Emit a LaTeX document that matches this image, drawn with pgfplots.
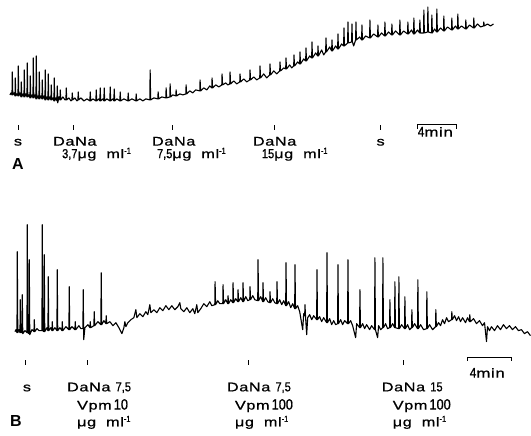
\documentclass[border=0pt]{standalone}
\usepackage{fontspec}
\setmainfont{Liberation Sans}
\newfontfamily\wf[FakeStretch=1.3,LetterSpace=5,FakeBold=0.8]{Liberation Sans}
\newfontfamily\nf[FakeStretch=0.85,FakeBold=0.8]{Liberation Sans}
\usepackage{pgfplots}
\pgfplotsset{compat=1.18}
\tikzset{lbl/.style={inner sep=0pt, font=\wf\fontsize{12.5}{14}\selectfont}}
\newcommand{\num}[2]{{\nf\fontsize{#1}{#1}\selectfont #2}}
\newcommand{\ugml}{μg\hspace{10pt}ml\textsuperscript{\nf -1}}

% recording traces, picture coordinates (x right, y down)
\pgfplotstableread{
x y
10 95
11 93
12 95
12.3 72
12.8 95
14 93
15 96
15.3 78
15.8 96
17 94
18 96
18.3 66
18.8 96
20 93
21 97
21.3 82
21.8 97
23 94
24 97
24.3 70
24.8 97
26 94
27 97
27.3 63
27.8 97
29 95
30 98
30.3 76
30.8 98
32 95
33 98
33.3 58
33.8 98
35 95
36 99
36.3 56
36.8 99
38 96
39 99
39.3 72
39.8 99
41 96
42 99
42.3 80
42.8 99
44 96
45 100
45.3 70
45.8 100
47 97
48 100
48.3 74
48.8 100
50 97
51 100
51.3 85
51.8 100
53 98
54 101
54.3 78
54.8 101
56 98
57 101
57.3 86
57.8 103
59 97
60 100
60.3 90
60.8 100
63 97
65 100
66 100
66.3 88
66.8 100
69 98
71 101
72 100
72.3 93
72.8 100
75 98
77 101
78 100
78.3 92
78.8 100
81 98
84 101
87 99
90 101
90.3 92
90.8 101
93 99
96 101
96.3 90
96.8 101
99 99
100 101
100.3 88
100.8 101
103 99
104 101
104.3 88
104.8 101
107 99
110 101
110.3 87
110.8 101
113 99
114 101
114.3 89
114.8 101
117 99
120 101
120.3 92
120.8 101
124 99
128 101
128.3 93
128.8 101
132 99
136 101
136.3 94
136.8 101
140 99
143 101
146 99
150 100
150.3 70
150.8 100
154 98
158 99
158.3 92
158.8 99
162 97
166 98
166.3 88
166.8 98
170 97
170.3 84
170.8 97
173 95
176 96
176.3 90
176.8 96
180 94
183 95
186 94
186.3 85
186.8 94
190 91
193 93
196 90
200 91
200.3 80
200.8 91
204 88
207 90
210 86
212 88
212.3 78
212.8 88
216 85
219 87
222 85
222.3 74
222.8 85
226 83
228 85
230 84
230.3 72
230.8 84
234 81
237 84
240 82
240.3 74
240.8 82
244 79
247 82
250 80
250.3 70
250.8 80
254 77
257 80
260 78
260.3 66
260.8 78
264 74
267 78
270 75
270.3 64
270.8 75
274 71
277 74
280 71
280.3 62
280.8 71
284 68
286 69
286.3 58
286.8 69
290 65
292 68
294 66
294.3 55
294.8 66
298 62
300 64
300.3 52
300.8 64
304 59
306 61
306.3 48
306.8 61
310 56
312 58
312.3 42
312.8 58
316 53
318 56
318.3 46
318.8 56
322 50
324 55
326 52
326.3 38
326.8 52
330 47
332 51
332.3 40
332.8 51
336 46
338 49
338.3 34
338.8 49
342 44
344 46
344.3 28
344.8 46
348 43
348.3 22
348.8 43
352 42
352.3 24
352.8 42
354 46
356 40
356.3 22
356.8 40
360 37
362 40
362.3 25
362.8 40
366 36
370 38
370.3 20
370.8 38
374 34
378 37
378.3 25
378.8 37
382 33
385 36
385.3 22
385.8 36
389 32
392 35
392.3 24
392.8 35
396 31
400 35
400.3 20
400.8 35
404 31
408 34
408.3 22
408.8 34
412 30
414 34
414.3 18
414.8 34
418 30
420 33
420.3 20
420.8 33
424 33
424.3 10
424.8 33
428 32
428.3 7
428.8 32
432 33
432.3 15
432.8 33
435 29
437 32
437.3 9
437.8 32
441 28
444 31
444.3 16
444.8 31
448 27
452 30
452.3 18
452.8 30
456 26
458 29
458.3 14
458.8 29
462 26
466 29
466.3 20
466.8 29
470 25
474 28
474.3 18
474.8 28
478 24
481 27
484 26
484.3 22
484.8 26
488 24
491 26
494 24
}\traceA

\pgfplotstableread{
x y
15 332
16 330
17 333
17.3 252
17.8 333
19 330
20 333
20.3 300
20.8 333
22 333
22.3 295
22.8 334
25 331
27 333
27.3 225
27.8 333
29 334
29.3 260
29.8 335
32 330
34 332
34.3 320
34.8 332
37 329
39 331
42 331
42.3 225
42.8 331
44 332
44.3 255
44.8 332
47 328
48 331
48.3 277
48.8 331
51 328
52 331
52.3 322
52.8 331
55 328
57 331
57.3 270
57.8 331
60 328
62 331
62.3 322
62.8 331
66 327
69 330
69.3 287
69.8 330
72 327
75 330
75.3 322
75.8 330
79 326
81 329
83 329
83.3 290
83.8 340
85 328
88 325
90 328
90.3 322
90.8 328
94 326
94.3 312
94.8 326
98 322
101 325
101.3 273
101.8 325
104 321
106 324
106.3 316
106.8 324
110 322
113 326
116 323
119 328
122 334
124 328
125 322
126 327
128 323
131 320
134 318
136 310
137 318
140 314
143 317
146 312
148 315
150 305
151 313
154 310
157 313
160 308
163 311
166 306
169 310
172 306
175 310
178 307
180 303
181 309
184 312
187 308
190 313
193 309
195 314
197 305
198 313
201 309
204 304
207 307
210 302
212 306
215 305
215.3 282
215.8 305
218 301
220 304
223 304
223.3 285
223.8 304
226 300
228 304
228.3 296
228.8 304
231 300
233 303
233.3 283
233.8 303
236 299
238 302
238.3 290
238.8 302
241 298
243 302
243.3 283
243.8 302
246 297
248 301
250 300
250.3 287
250.8 300
253 296
255 300
258 301
258.3 260
258.8 301
261 297
263 302
263.3 283
263.8 302
266 298
268 302
270 303
270.3 292
270.8 303
273 299
275 303
277 304
277.3 282
277.8 304
280 300
282 305
284 301
286 306
286.3 263
286.8 306
289 302
291 308
293 304
295 309
295.3 265
295.8 309
298 306
300 312
303 330
304 314
305 316
305.3 305
305.8 316
307 335
308 318
310 315
312 320
314 316
317 320
317.3 270
317.8 320
320 317
322 322
324 318
327 323
327.3 253
327.8 323
330 319
332 325
334 321
336 325
338 324
338.3 265
338.8 324
341 320
343 325
345 321
348 324
348.3 260
348.8 324
351 321
353 326
356 338
357 324
360 328
360.3 290
360.8 328
363 324
365 329
367 325
370 330
372 326
375 330
375.3 258
375.8 330
378 338
379 326
381 330
383 328
383.3 258
383.8 328
386 324
388 329
390 328
390.3 300
390.8 328
393 324
395 328
395.3 282
395.8 328
399 329
399.3 277
399.8 329
402 325
405 329
405.3 297
405.8 329
408 325
410 330
412 328
412.3 310
412.8 328
415 324
418 329
418.3 280
418.8 329
421 325
424 330
427 329
427.3 292
427.8 329
430 325
433 330
436 327
436.3 310
436.8 327
439 323
441 326
443 320
445 324
447 318
449 322
452 320
452.3 312
452.8 320
455 316
457 321
459 317
461 322
463 318
466 323
468 318
470 322
470.3 315
470.8 322
474 319
477 324
480 321
483 326
485 323
487 342
488 327
490 331
492 327
495 331
498 326
501 330
504 325
507 329
510 326
513 330
516 327
519 331
522 330
525 334
528 332
531 336
}\traceB

\begin{document}
\begin{tikzpicture}
\begin{axis}[
  width=531pt, height=436pt, scale only axis,
  xmin=0, xmax=531, ymin=0, ymax=436,
  y dir=reverse,
  hide axis, clip=false
]
% keep the full page area
\path[draw=none] (rel axis cs:0,0) rectangle (rel axis cs:1,1);

\addplot[black, line width=1.1pt, line join=round] table {\traceA};
\addplot[black, line width=1.1pt, line join=round] table {\traceB};

% event markers
\addplot[black, only marks, mark=|, mark size=2.4pt, mark options={line width=0.9pt}]
  coordinates {(18,128) (74,128) (173,128) (275,128) (381,128)};
\addplot[black, only marks, mark=|, mark size=2.4pt, mark options={line width=0.9pt}]
  coordinates {(25,363) (88,363) (249,363) (404,363)};

% time bars
\addplot[black, line width=0.8pt] coordinates {(418,129) (418,125) (457,125) (457,129)};
\addplot[black, line width=0.8pt] coordinates {(468,361) (468,358) (512,358) (512,361)};

% panel A labels
\node[lbl, anchor=base] at (axis cs:18,145.7) {s};
\node[lbl, anchor=base west] at (axis cs:53,145.7) {DaNa};
\node[lbl, anchor=base west] at (axis cs:62,158.3) {\num{13}{3,7}\ugml};
\node[lbl, anchor=base west] at (axis cs:152,145.7) {DaNa};
\node[lbl, anchor=base west] at (axis cs:157,158.3) {\num{13}{7,5}\ugml};
\node[lbl, anchor=base west] at (axis cs:253,145.7) {DaNa};
\node[lbl, anchor=base west] at (axis cs:262,158.3) {\num{13}{15}\ugml};
\node[lbl, anchor=base] at (axis cs:381,145.7) {s};
\node[lbl, anchor=base west, font=\wf\fontsize{13}{14}\selectfont] at (axis cs:418,136.7) {\num{14}{4}min};
\node[lbl, anchor=base west, font=\bfseries\fontsize{16}{18}\selectfont] at (axis cs:12,170) {A};

% panel B labels
\node[lbl, anchor=base] at (axis cs:27,391.7) {s};
\node[lbl, anchor=base west] at (axis cs:67,391.7) {DaNa \num{13}{7,5}};
\node[lbl, anchor=base west] at (axis cs:77,410) {Vpm\,\num{15}{10}};
\node[lbl, anchor=base west] at (axis cs:77,426.7) {\ugml};
\node[lbl, anchor=base west] at (axis cs:227,391.7) {DaNa \num{13}{7,5}};
\node[lbl, anchor=base west] at (axis cs:235,410) {Vpm\,\num{15}{100}};
\node[lbl, anchor=base west] at (axis cs:235,426.7) {\ugml};
\node[lbl, anchor=base west] at (axis cs:382,391.7) {DaNa \num{13}{15}};
\node[lbl, anchor=base west] at (axis cs:393,410) {Vpm\,\num{15}{100}};
\node[lbl, anchor=base west] at (axis cs:393,426.7) {\ugml};
\node[lbl, anchor=base west, font=\wf\fontsize{13}{14}\selectfont] at (axis cs:470,378) {\num{14}{4}min};
\node[lbl, anchor=base west, font=\bfseries\fontsize{16}{18}\selectfont] at (axis cs:10,426.7) {B};
\end{axis}
\end{tikzpicture}
\end{document}
